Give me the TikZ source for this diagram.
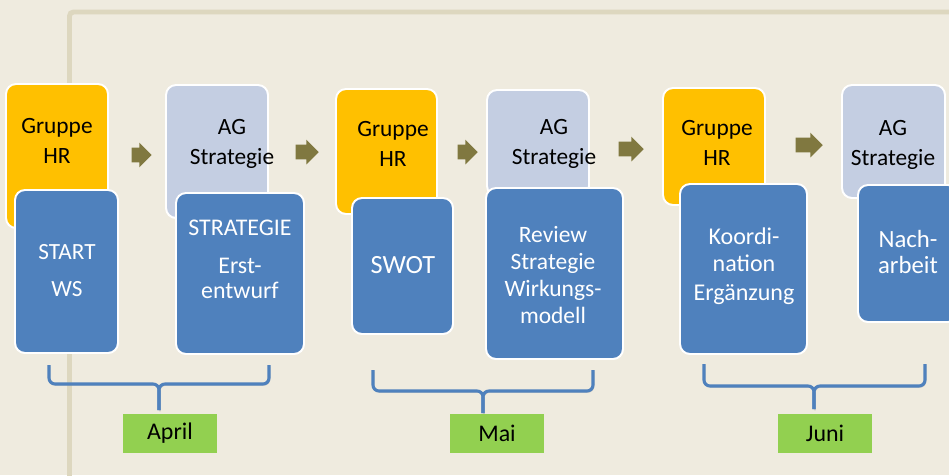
\documentclass[tikz,border=0pt]{standalone}
\usepackage{fontspec}
\setmainfont{Carlito}
\usepackage{xcolor}
\definecolor{colorBack}{RGB}{239,235,223}
\definecolor{colorFrame}{RGB}{221,215,191}
\definecolor{colorHR}{RGB}{255,192,0}
\definecolor{colorAG}{RGB}{196,206,226}
\definecolor{colorTask}{RGB}{79,129,189}
\definecolor{colorMonth}{RGB}{146,208,80}
\definecolor{colorFlow}{RGB}{128,120,64}
\usepackage{tikz}
\usetikzlibrary{shapes.arrows, fit}

\begin{document}
\begin{tikzpicture}[x=0.025cm, y=-0.025cm,
  card/.style={draw=white, line width=1.4pt, rounded corners=2.5mm, inner sep=0pt},
  hrbox/.style={card, fill=colorHR},
  agbox/.style={card, fill=colorAG},
  taskbox/.style={card, fill=colorTask},
  head/.style={align=center, text=black, inner sep=0pt, font=\fontsize{16.6}{21.3}\selectfont},
  task/.style={align=center, text=white, inner sep=0pt},
  flow/.style={single arrow, fill=colorFlow, inner xsep=0pt, inner ysep=0.18cm, single arrow head extend=0.125cm},
  brace/.style={line width=2.2pt, colorTask, rounded corners=1.5mm,
    preaction={draw=black!40, opacity=0.45, transform canvas={shift={(0.7pt,-1pt)}}}},
  month/.style={fill=colorMonth, minimum width=2.35cm, minimum height=0.975cm, inner sep=0pt, font=\fontsize{17}{20}\selectfont}]
\useasboundingbox [fill=colorBack] (0,0) rectangle (949,475);
\draw [colorFrame, line width=3.5pt, rounded corners=1mm] (69.5,480) -- (69.5,12) -- (960,12);

% flow arrows
\node[flow, minimum height=0.5cm] (f1) at (138,155) {};
\node[flow, minimum height=0.575cm] (f2) at (303.5,152) {};
\node[flow, minimum height=0.5cm] (f3) at (464,152) {};
\node[flow, minimum height=0.625cm] (f4) at (627.5,149) {};
\node[flow, minimum height=0.675cm] (f5) at (805.5,145) {};

% groups
\node[hrbox, fit={(6,84) (108,228)}] (hr1) {};
\node[agbox, fit={(166,85) (268,218)}] (ag1) {};
\node[hrbox, fit={(336,89) (437,214)}] (hr2) {};
\node[agbox, fit={(487,90) (589,196)}] (ag2) {};
\node[hrbox, fit={(663,88) (765,205)}] (hr3) {};
\node[agbox, fit={(842,85) (945,198)}] (ag3) {};

% tasks
\node[taskbox, fit={(15,190) (118,353)}] (w1) {};
\node[taskbox, fit={(176,193) (304,354)}] (w2) {};
\node[taskbox, fit={(352,198) (453,334)}] (w3) {};
\node[taskbox, fit={(486,188) (623,359)}] (w4) {};
\node[taskbox, fit={(680,184) (807,354)}] (w5) {};
\node[taskbox, fit={(858,185) (958,322)}] (w6) {};

% texts
\node[head] (hr1t) at (57,140.5) {Gruppe\\HR};
\node[head] (ag1t) at (232,144.3) {AG\\Strategie};
\node[head] (hr2t) at (393,143.5) {Gruppe\\HR};
\node[head] (ag2t) at (554,144.3) {AG\\Strategie};
\node[head] (hr3t) at (717,143) {Gruppe\\HR};
\node[head] (ag3t) at (893,144.8) {AG\\Strategie};
\node[task, font=\fontsize{16.5}{21.3}\selectfont] (w1t) at (67,271) {START\\[5pt]WS};
\node[task, font=\fontsize{17}{17.8}\selectfont] (w2t) at (240,259) {STRATEGIE\\[9pt]Erst-\\entwurf};
\node[task, font=\fontsize{18.7}{22}\selectfont] (w3t) at (403,265) {SWOT};
\node[task, font=\fontsize{16.7}{19.2}\selectfont] (w4t) at (553,275) {Review\\Strategie\\Wirkungs-\\modell};
\node[task, font=\fontsize{17.1}{19.5}\selectfont] (w5t) at (744,266) {Koordi-\\nation\\[1pt]Ergänzung};
\node[task, font=\fontsize{17.6}{18.5}\selectfont] (w6t) at (908,252) {Nach-\\arbeit};

% months
\draw[brace] (49,365) -- (49,384) -- (159,384) -- (159,410);
\draw[brace] (269,365) -- (269,384) -- (159,384) -- (159,410);
\draw[brace] (373,370) -- (373,391) -- (483,391) -- (483,413);
\draw[brace] (593,370) -- (593,391) -- (483,391) -- (483,413);
\draw[brace] (704,364) -- (704,386) -- (814,386) -- (814,409);
\draw[brace] (925,364) -- (925,386) -- (814,386) -- (814,409);
\node[month] (m1) at (170,433.5) {April};
\node[month] (m2) at (497,433.5) {Mai};
\node[month] (m3) at (825,433.5) {Juni};
\end{tikzpicture}
\end{document}
